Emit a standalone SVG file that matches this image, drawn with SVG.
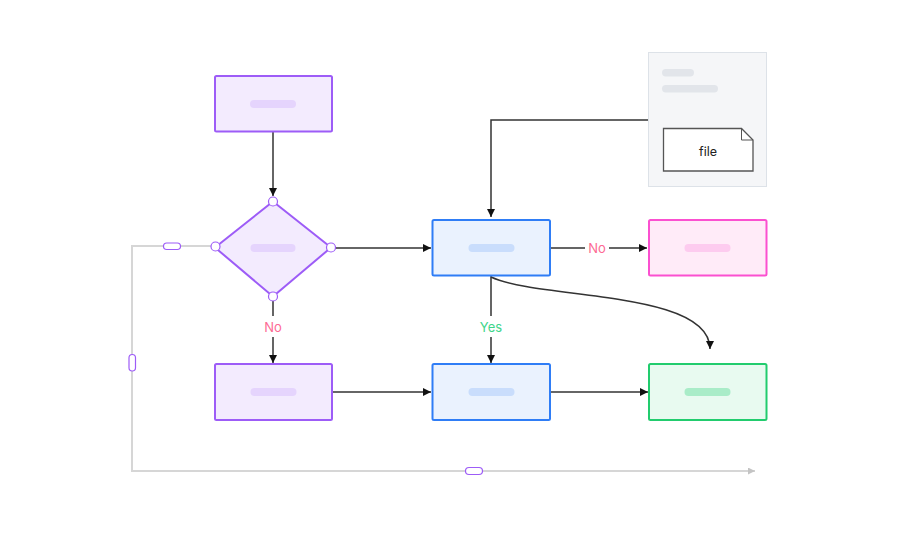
<svg xmlns="http://www.w3.org/2000/svg" width="912" height="536" viewBox="0 0 912 536">
<style>
.purple{fill:#f3ebfe;stroke:#9d5cf7;stroke-width:2}
.blue{fill:#eaf2fe;stroke:#2f7df6;stroke-width:2}
.pink{fill:#ffebf8;stroke:#fb50d0;stroke-width:2}
.green{fill:#e8faf0;stroke:#22cc6e;stroke-width:2}
.bar-purple{fill:#e5d4fd}
.bar-blue{fill:#c9ddfc}
.bar-pink{fill:#fdcbef}
.bar-green{fill:#a9ecc8}
.edge{fill:none;stroke:#333;stroke-width:1.5}
.gray{fill:none;stroke:#d6d6d6;stroke-width:2}
.handle{fill:#fff;stroke:#9d5cf7;stroke-width:1.2}
.lbl{font-family:"Inter","Liberation Sans",sans-serif;font-size:13px;text-anchor:middle;dominant-baseline:central}
</style>
<defs>
<marker id="arr" viewBox="0 0 10 10" refX="10" refY="5" markerWidth="8" markerHeight="8" markerUnits="userSpaceOnUse" orient="auto">
<path d="M0,0 L10,5 L0,10 z" fill="#111"/>
</marker>
<marker id="garr" viewBox="0 0 10 10" refX="10" refY="5" markerWidth="7" markerHeight="7" markerUnits="userSpaceOnUse" orient="auto">
<path d="M0,0 L10,5 L0,10 z" fill="#c4c4c4"/>
</marker>
</defs>

<g id="connectors">
<path class="gray" d="M215,246 H132 V471 H755" marker-end="url(#garr)"/>
<rect class="handle" x="163.5" y="243" width="17" height="6.5" rx="3.2"/>
<rect class="handle" x="129" y="354.5" width="6.5" height="16.5" rx="3.2"/>
<rect class="handle" x="465.5" y="467.5" width="17" height="7" rx="3.5"/>
<path class="edge" d="M273,132 V196" marker-end="url(#arr)"/>
<path class="edge" d="M331,248 H431" marker-end="url(#arr)"/>
<path class="edge" d="M273,297 V316 M273,337 V363" marker-end="url(#arr)"/>
<path class="edge" d="M648,120 H491 V217" marker-end="url(#arr)"/>
<path class="edge" d="M550,248 H585 M609,248 H647" marker-end="url(#arr)"/>
<path class="edge" d="M491,276 V316 M491,337 V363" marker-end="url(#arr)"/>
<path class="edge" d="M491,277 C540,300 710,290 710,349" marker-end="url(#arr)"/>
<path class="edge" d="M332,392 H431" marker-end="url(#arr)"/>
<path class="edge" d="M550,392 H648" marker-end="url(#arr)"/>
<text class="lbl" x="273" y="326.5" fill="#fd6a93">No</text>
<text class="lbl" x="597" y="248" fill="#fd6a93">No</text>
<text class="lbl" x="491" y="326.5" fill="#3fd58a">Yes</text>
</g>

<g id="start">
<rect class="purple" x="215" y="76" width="117" height="55.5" rx="1.5"/>
<rect class="bar-purple" x="250" y="100" width="46" height="8" rx="4"/>
</g>

<g id="decision">
<path class="purple" d="M273,201.5 L331,247.5 L273,296.5 L215,247.5 Z" stroke-linejoin="round"/>
<rect class="bar-purple" x="250.5" y="244" width="45" height="8" rx="4"/>
<circle class="handle" cx="273" cy="201.5" r="4.5"/>
<circle class="handle" cx="331" cy="247.5" r="4.5"/>
<circle class="handle" cx="273" cy="296.5" r="4.5"/>
<circle class="handle" cx="215.5" cy="246.5" r="4.5"/>
</g>

<g id="process-a">
<rect class="blue" x="432.5" y="220" width="117.5" height="55.5" rx="1.5"/>
<rect class="bar-blue" x="468.5" y="244" width="46" height="8" rx="4"/>
</g>

<g id="reject">
<rect class="pink" x="649" y="220" width="117.5" height="55.5" rx="1.5"/>
<rect class="bar-pink" x="684.5" y="244" width="46" height="8" rx="4"/>
</g>

<g id="process-b">
<rect class="purple" x="215" y="364" width="117" height="56" rx="1.5"/>
<rect class="bar-purple" x="250.5" y="388" width="46" height="8" rx="4"/>
</g>

<g id="process-c">
<rect class="blue" x="432.5" y="364" width="117.5" height="56" rx="1.5"/>
<rect class="bar-blue" x="468.5" y="388" width="46" height="8" rx="4"/>
</g>

<g id="end">
<rect class="green" x="649" y="364" width="117.5" height="56" rx="1.5"/>
<rect class="bar-green" x="684.5" y="388" width="46" height="8" rx="4"/>
</g>

<g id="file-panel">
<rect x="648.5" y="52.5" width="118" height="134" fill="#f5f6f8" stroke="#dde2e8" stroke-width="1"/>
<rect x="662" y="69" width="32" height="7.5" rx="3.7" fill="#e2e5ea"/>
<rect x="662" y="85" width="56" height="7.5" rx="3.7" fill="#e2e5ea"/>
<path d="M663.5,128.5 H741.5 L753,140 V171 H663.5 Z" fill="#fff" stroke="#555" stroke-width="1.3"/>
<path d="M741.5,128.5 V140 H753" fill="none" stroke="#555" stroke-width="1"/>
<text x="708" y="151" font-family="Inter,'Liberation Sans',sans-serif" font-size="12.5" fill="#222" text-anchor="middle" dominant-baseline="central">file</text>
</g>
</svg>
